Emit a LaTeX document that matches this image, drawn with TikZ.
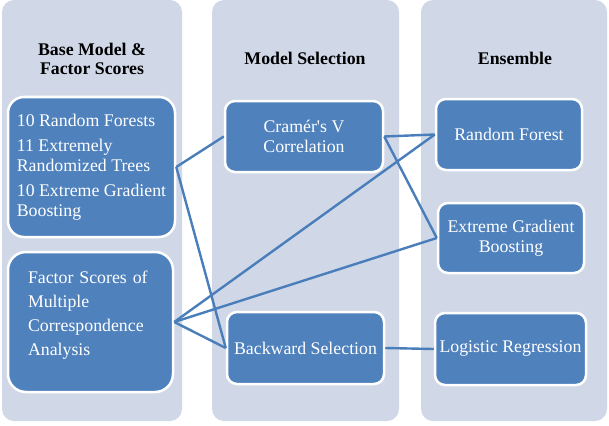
\documentclass[tikz,border=0pt]{standalone}
\usepackage{fontspec}
\setmainfont{Liberation Serif}
\usetikzlibrary{positioning}
\definecolor{colbg}{RGB}{208,216,232}
\definecolor{boxblue}{RGB}{79,129,189}
\definecolor{lineblue}{RGB}{74,126,187}

\begin{document}
\begin{tikzpicture}[x=1pt,y=-1pt,
  col/.style={fill=colbg,rounded corners=12pt},
  box/.style={draw=white,line width=2.5pt,fill=boxblue,text=white,rounded corners=10pt,
    align=center,inner sep=0pt,font=\fontsize{17.8}{19.5}\selectfont},
  head/.style={align=center,font=\fontsize{17.8}{19.5}\selectfont\bfseries},
  link/.style={draw=lineblue,line width=2.4pt}]
 \useasboundingbox (0,0) rectangle (609,425);
 % three columns
 \foreach \a/\b in {2/182,212/399,421/607}{
  \fill[col] (\a,0) rectangle (\b,421);
 }
 \node[head] (h1) at (92,59) {Base Model \&\\Factor Scores};
 \node[head] (h2) at (305,58) {Model Selection};
 \node[head] (h3) at (515,58) {Ensemble};
 % boxes
 \node[box,rounded corners=16pt,minimum width=167pt,minimum height=140pt,align=left]
   (rf) at (91.5,167) {10 Random Forests\\[6pt]11 Extremely\\Randomized Trees\\[6pt]10 Extreme Gradient\\Boosting};
 \node[box,rounded corners=18pt,minimum width=165pt,minimum height=140pt,text width=125pt,align=left,
   font=\fontsize{17.8}{24}\selectfont]
   (mca) at (90.5,322) {Factor Scores of\\Multiple\\Correspondence\\Analysis\\[-6pt]\mbox{}};
 \node[box,minimum width=158pt,minimum height=71pt] (cv) at (304,136.5) {Cramér\textquotesingle s V\\Correlation};
 \node[box,minimum width=157pt,minimum height=72pt] (bw) at (305.5,348) {Backward Selection};
 \node[box,minimum width=146pt,minimum height=71pt] (erf) at (509,134.5) {Random Forest};
 \node[box,minimum width=146pt,minimum height=70pt] (exgb) at (511,238) {Extreme Gradient\\Boosting};
 \node[box,minimum width=151pt,minimum height=72pt] (elr) at (510.5,349) {Logistic Regression};
 % links
 \draw[link] (rf.east) -- (cv.west);
 \draw[link] (rf.east) -- (bw.west);
 \draw[link] (mca.east) -- (bw.west);
 \draw[link] (mca.east) -- (erf.west);
 \draw[link] (mca.east) -- (exgb.west);
 \draw[link] (cv.east) -- (erf.west);
 \draw[link] (cv.east) -- (exgb.west);
 \draw[link] (bw.east) -- (elr.west);
\end{tikzpicture}
\end{document}
